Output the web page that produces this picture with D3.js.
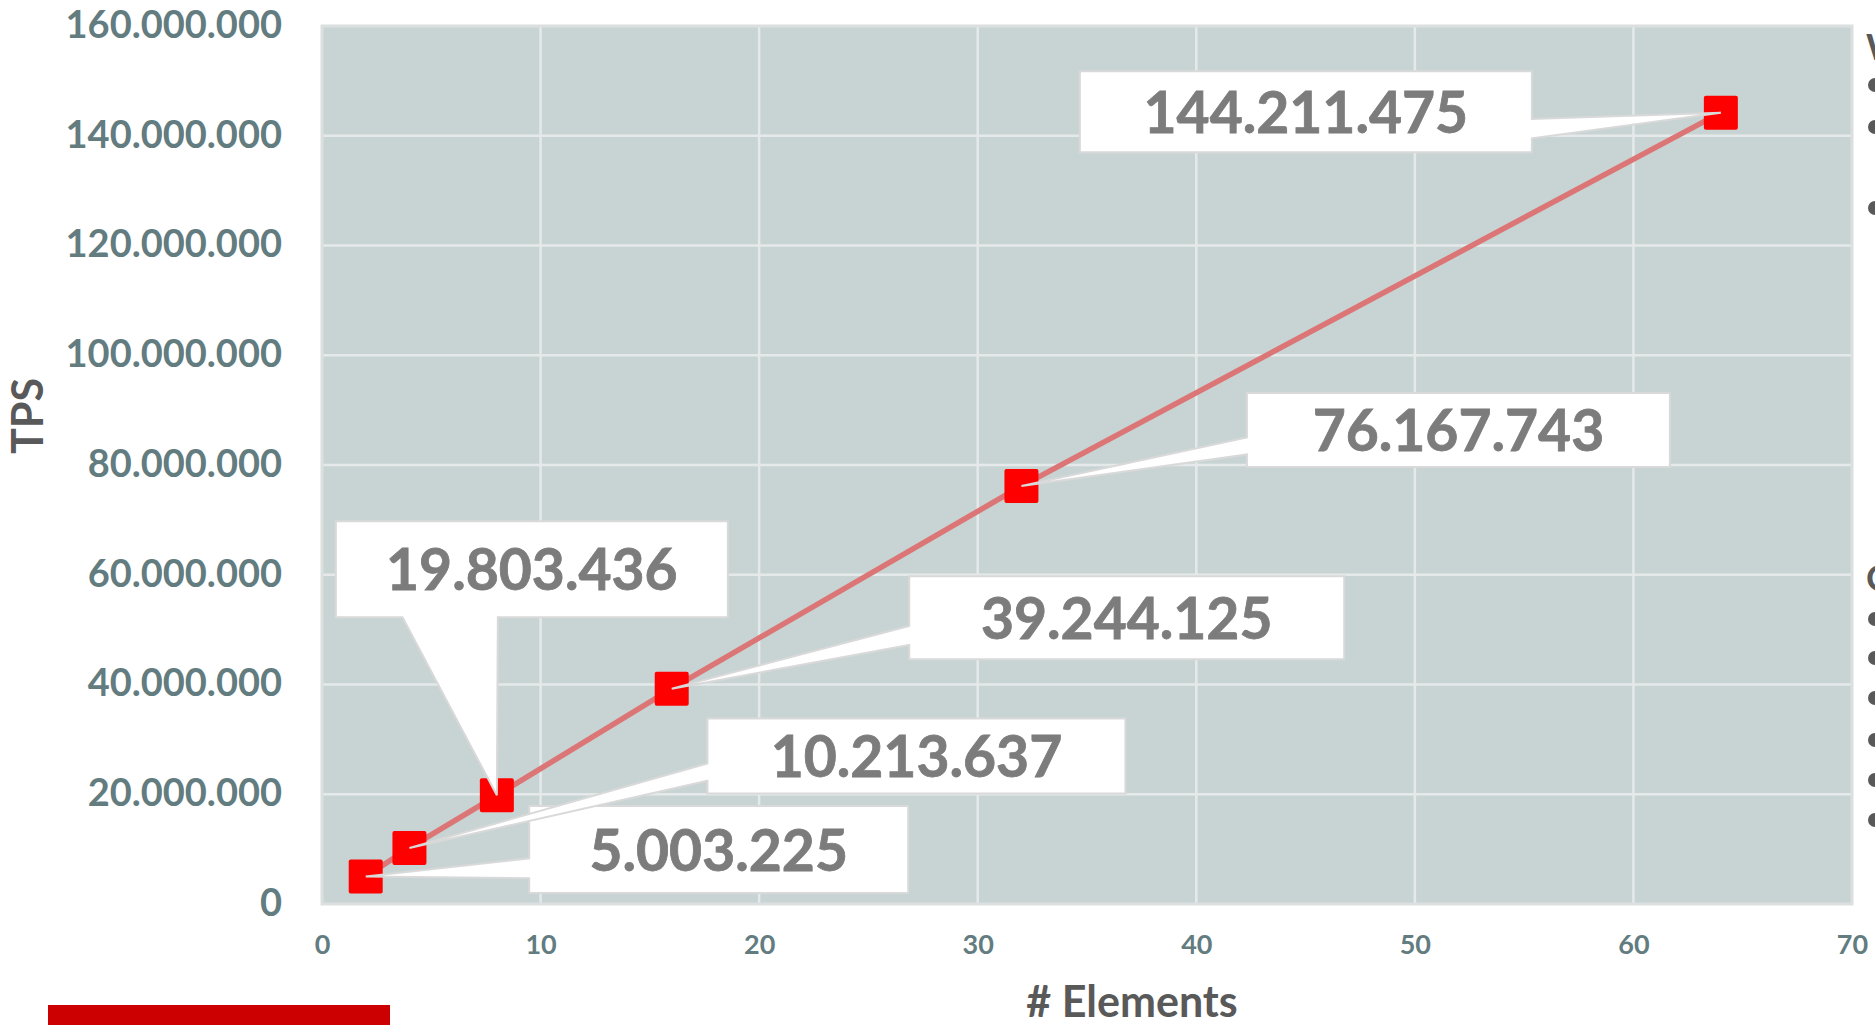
<!DOCTYPE html>
<html>
<head>
<meta charset="utf-8">
<script src="https://cdn.jsdelivr.net/npm/d3@7"></script>
<style>
  html, body { margin: 0; padding: 0; background: #ffffff; }
  svg { display: block; font-family: Lato, "Open Sans", sans-serif; }
</style>
</head>
<body>
<svg id="chart" width="1875" height="1025"></svg>
<script>
// Throughput (TPS) measured for growing element counts
const elements = [2, 4, 8, 16, 32, 64];
const tps = [5003225, 10213637, 19803436, 39244125, 76167743, 144211475];

// Axis ticks
const xTicks = [0, 10, 20, 30, 40, 50, 60, 70];
const yTicks = [0, 20000000, 40000000, 60000000, 80000000, 100000000, 120000000, 140000000, 160000000];

// Axis titles
const xTitle = "# Elements";
const yTitle = "TPS";

// Callout box placement relative to each point (centre offset, size, wedge side)
const calloutLayout = [
  { dx: 353, dy: -27, w: 379, h: 87, side: "left" },
  { dx: 507, dy: -92, w: 418, h: 75, side: "left" },
  { dx: 35, dy: -226, w: 392, h: 96, side: "bottom" },
  { dx: 455, dy: -71, w: 435, h: 83, side: "left" },
  { dx: 437, dy: -56, w: 423, h: 74, side: "left" },
  { dx: -415, dy: -1, w: 452, h: 81, side: "right" }
];

// Text fragments of the neighbouring column, cut by the page edge
const sideHeadings = [{ t: "W", y: 60 }, { t: "C", y: 591 }];
const sideBullets = [85, 127, 208, 619, 658, 698, 740, 780, 820];

const svg = d3.select("#chart");
const plot = { left: 322, right: 1852, top: 26, bottom: 904 };

const x = d3.scaleLinear().domain([0, 70]).range([plot.left, plot.right]);
const y = d3.scaleLinear().domain([0, 160000000]).range([plot.bottom, plot.top]);

const dotted = v => d3.format(",")(v).replace(/,/g, ".");

// plot area background
svg.append("rect")
  .attr("x", plot.left).attr("y", plot.top)
  .attr("width", plot.right - plot.left).attr("height", plot.bottom - plot.top)
  .attr("fill", "#c8d4d4");

// gridlines
const grid = svg.append("g").attr("stroke", "#e6e9e9").attr("stroke-width", 2.5);
grid.selectAll("line.h").data(yTicks.slice(1, -1)).join("line")
  .attr("x1", plot.left).attr("x2", plot.right)
  .attr("y1", d => y(d)).attr("y2", d => y(d));
grid.selectAll("line.v").data(xTicks.slice(1, -1)).join("line")
  .attr("y1", plot.top).attr("y2", plot.bottom)
  .attr("x1", d => x(d)).attr("x2", d => x(d));

// plot border
svg.append("rect")
  .attr("x", plot.left).attr("y", plot.top)
  .attr("width", plot.right - plot.left).attr("height", plot.bottom - plot.top)
  .attr("fill", "none").attr("stroke", "#dcdfdf").attr("stroke-width", 3);

// y axis
const yAxis = svg.append("g")
  .attr("transform", `translate(${plot.left - 40},0)`)
  .call(d3.axisLeft(y).tickValues(yTicks).tickFormat(dotted).tickSize(0).tickPadding(0));
yAxis.select(".domain").remove();
yAxis.selectAll("text")
  .attr("font-family", "Lato, sans-serif").attr("font-weight", 700)
  .attr("font-size", 38).attr("fill", "#627c80").attr("dy", "0.3em");

// x axis
const xAxis = svg.append("g")
  .attr("transform", `translate(0,${plot.bottom + 31})`)
  .call(d3.axisBottom(x).tickValues(xTicks).tickFormat(d3.format("d")).tickSize(0).tickPadding(0));
xAxis.select(".domain").remove();
xAxis.selectAll("text")
  .attr("font-family", "Lato, sans-serif").attr("font-weight", 700)
  .attr("font-size", 27).attr("fill", "#627c80").attr("dy", "0.72em");

// axis titles
svg.append("text")
  .attr("x", (plot.left + plot.right) / 2 + 45).attr("y", 1017)
  .attr("text-anchor", "middle")
  .attr("font-weight", 700).attr("font-size", 43).attr("fill", "#595959")
  .text(xTitle);
svg.append("text")
  .attr("transform", "translate(43,416) rotate(-90)")
  .attr("text-anchor", "middle")
  .attr("font-weight", 700).attr("font-size", 43).attr("fill", "#595959")
  .text(yTitle);

// series
const pts = elements.map((e, i) => ({ e, v: tps[i] }));
svg.append("path")
  .datum(pts)
  .attr("fill", "none").attr("stroke", "#dc7676").attr("stroke-width", 5.5)
  .attr("d", d3.line().x(d => x(d.e)).y(d => y(d.v)));

const ms = 34;
svg.selectAll("rect.marker").data(pts).join("rect")
  .attr("class", "marker")
  .attr("x", d => x(d.e) - ms / 2).attr("y", d => y(d.v) - ms / 2)
  .attr("width", ms).attr("height", ms).attr("rx", 2)
  .attr("fill", "#ff0000");

// callout outline: a box with a wedge reaching the point
function calloutPath(cx, cy, w, h, side, tx, ty) {
  const x0 = cx - w / 2, x1 = cx + w / 2, y0 = cy - h / 2, y1 = cy + h / 2;
  const p = d3.path();
  p.moveTo(x0, y0);
  p.lineTo(x1, y0);
  if (side === "right") {
    p.lineTo(x1, y0 + 0.59 * h); p.lineTo(tx, ty); p.lineTo(x1, y0 + 0.83 * h);
  }
  p.lineTo(x1, y1);
  if (side === "bottom") {
    const bx1 = tx + 1;
    p.lineTo(bx1, y1); p.lineTo(tx, ty); p.lineTo(x0 + 0.17 * w, y1);
  }
  p.lineTo(x0, y1);
  if (side === "left") {
    p.lineTo(x0, y0 + 0.83 * h); p.lineTo(tx, ty); p.lineTo(x0, y0 + 0.6 * h);
  }
  p.closePath();
  return p.toString();
}

const callouts = svg.append("g").selectAll("g").data(pts).join("g");
callouts.append("path")
  .attr("d", (d, i) => {
    const L = calloutLayout[i];
    const px = x(d.e), py = y(d.v);
    return calloutPath(px + L.dx, py + L.dy, L.w, L.h, L.side, px, py);
  })
  .attr("fill", "#ffffff").attr("stroke", "#d9d9d9").attr("stroke-width", 2)
  .attr("stroke-linejoin", "miter");
callouts.append("text")
  .attr("x", (d, i) => x(d.e) + calloutLayout[i].dx)
  .attr("y", (d, i) => y(d.v) + calloutLayout[i].dy)
  .attr("dy", "0.37em")
  .attr("text-anchor", "middle")
  .attr("font-weight", 700).attr("font-size", 57).attr("fill", "#7c7c7c")
  .attr("stroke", "#7c7c7c").attr("stroke-width", 0.8)
  .text(d => dotted(d.v));

// neighbouring column fragments at the page edge
svg.selectAll("text.sideHead").data(sideHeadings).join("text")
  .attr("class", "sideHead")
  .attr("x", 1866).attr("y", d => d.y)
  .attr("font-weight", 700).attr("font-size", 36).attr("fill", "#595959")
  .text(d => d.t);
svg.selectAll("circle.bullet").data(sideBullets).join("circle")
  .attr("class", "bullet")
  .attr("cx", 1875).attr("cy", d => d)
  .attr("r", 7).attr("fill", "#595959");

// accent bar
svg.append("rect")
  .attr("x", 48).attr("y", 1005).attr("width", 342).attr("height", 20)
  .attr("fill", "#cc0000");
</script>
</body>
</html>
